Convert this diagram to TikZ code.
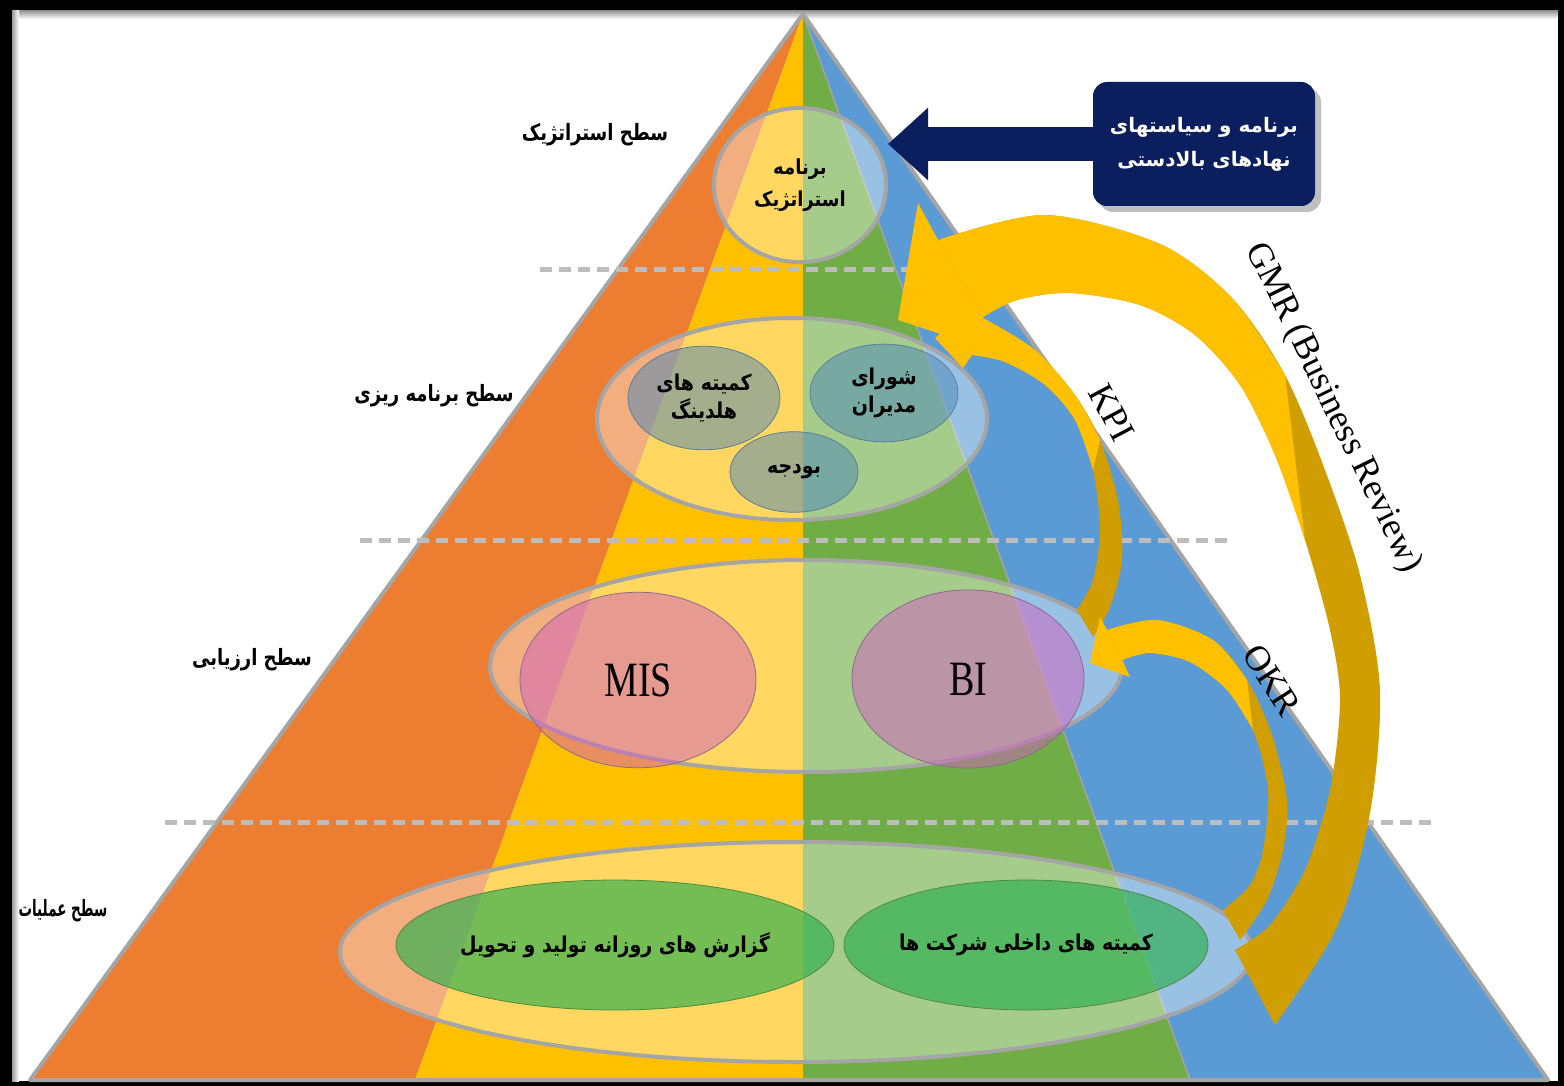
\documentclass[tikz,border=0pt]{standalone}
\usepackage{fontspec}
\setmainfont{Liberation Serif}
\newfontfamily\fa[Script=Arabic]{DejaVu Sans}
\TeXXeTstate=1
\usetikzlibrary{shapes.geometric,arrows.meta}
\newcommand{\prs}[1]{{\fa\bfseries\beginR #1\endR}}
\definecolor{porange}{HTML}{ED7D31}
\definecolor{pyellow}{HTML}{FFC000}
\definecolor{pgreen}{HTML}{70AD47}
\definecolor{pblue}{HTML}{5B9BD5}
\definecolor{pgray}{HTML}{A5A5A5}
\definecolor{dashgray}{HTML}{BDBDBD}
\definecolor{navy}{HTML}{0B1F5E}
\definecolor{arrbright}{HTML}{FFC000}
\definecolor{arrdark}{HTML}{D09E00}
\definecolor{bluefill}{HTML}{4A86B8}
\definecolor{blueline}{HTML}{5A7F96}
\definecolor{pinkfill}{HTML}{D060C0}
\definecolor{pinkline}{HTML}{8A6A8E}
\definecolor{greenfill}{HTML}{2AB04E}
\definecolor{greenline}{HTML}{4E8A3A}
\begin{document}
\begin{tikzpicture}[x=1pt,y=-1pt]
\tikzstyle{lvl}=[ellipse,draw=pgray,line width=4pt,fill=white,fill opacity=.38,text opacity=1,inner sep=0pt]
\tikzstyle{blueov}=[ellipse,draw=blueline,line width=.8pt,fill=bluefill,fill opacity=.5,text opacity=1,inner sep=0pt,align=center,font=\fontsize{19}{24}\selectfont]
\tikzstyle{pinkov}=[ellipse,draw=pinkline,line width=.8pt,fill=pinkfill,fill opacity=.5,text opacity=1,inner sep=0pt,font=\fontsize{38}{38}\selectfont]
\tikzstyle{greenov}=[ellipse,draw=greenline,line width=.8pt,fill=greenfill,fill opacity=.65,text opacity=1,inner sep=0pt,font=\fontsize{19}{24}\selectfont]
\tikzstyle{lvltext}=[font=\fontsize{18}{22}\selectfont,yscale=1.25]
\tikzstyle{rotlbl}=[font=\fontsize{36}{36}\selectfont]
\tikzstyle{sep}=[draw=dashgray,line width=5pt,dash pattern=on 12pt off 7pt]
\useasboundingbox (0,0) rectangle (1564,1086);
% frame
\fill[black] (0,0) rectangle (1564,1086);
\fill[white] (12,11) rectangle (1558,1081);
\shade[top color=black!40,bottom color=white] (12,11) rectangle (1558,19);
\shade[left color=black!40,right color=white] (12,11) rectangle (19,1081);
% pyramid
\coordinate (top) at (803,14);
\fill[porange] (top) -- (30,1080) -- (415,1080) -- cycle;
\fill[pyellow] (top) -- (415,1080) -- (803,1080) -- cycle;
\fill[pgreen] (top) -- (803,1080) -- (1190,1080) -- cycle;
\fill[pblue] (top) -- (1190,1080) -- (1548,1080) -- cycle;
\draw[pgray,line width=1.5pt] (top) -- (1190,1080);
\draw[pgray,line width=4pt,line join=round] (top) -- (30,1080) -- (1548,1080) -- cycle;
% level separators
\draw[sep] (540,270) -- (1030,270);
\draw[sep] (360,540) -- (1232,540);
\draw[sep] (165,822) -- (1432,822);
% level ellipses
\node[lvl,minimum width=172pt,minimum height=134pt,align=center,font=\fontsize{18}{28}\selectfont,yscale=1.15] (st) at (800,185) {\prs{برنامه}\\\prs{استراتژیک}};
\node[lvl,minimum width=390pt,minimum height=202pt] (pl) at (792,419) {};
\node[lvl,minimum width=632pt,minimum height=212pt] (ev) at (806,666) {};
\node[lvl,minimum width=912pt,minimum height=220pt] (op) at (796,952) {};
% inner ellipses
\node[blueov,minimum width=152pt,minimum height=90pt,yscale=1.15] (hc) at (704,398) {\prs{کمیته های}\\\prs{هلدینگ}};
\node[blueov,minimum width=148pt,minimum height=85pt,yscale=1.15] (bm) at (884,393) {\prs{شورای}\\\prs{مدیران}};
\node[blueov,minimum width=128pt,minimum height=70pt,yscale=1.15] (bu) at (794,472) {\prs{بودجه}};
\node[pinkov,minimum width=236pt,minimum height=135pt,yscale=1.3] (mis) at (638,680) {MIS};
\node[pinkov,minimum width=232pt,minimum height=137pt,yscale=1.3] (bi) at (968,679) {BI};
\node[greenov,minimum width=430pt,minimum height=113pt,yscale=1.15] (rep) at (615,945) {\prs{گزارش های روزانه تولید و تحویل}};
\node[greenov,minimum width=364pt,minimum height=113pt,yscale=1.15] (com) at (1026,945) {\prs{کمیته های داخلی شرکت ها}};
% level names
\node[lvltext] (l0) at (595,135) {\prs{سطح استراتژیک}};
\node[lvltext] (l1) at (434,396) {\prs{سطح برنامه ریزی}};
\node[lvltext] (l2) at (252,660) {\prs{سطح ارزیابی}};
\node[lvltext,xscale=.75] (l3) at (63,911) {\prs{سطح عملیات}};
% KPI arrow
\fill[arrdark] plot[smooth] coordinates {(983,318) (1035,350) (1075,395) (1100,440) (1118,500) (1122,560) (1110,607) (1093,637)}
  -- plot[smooth] coordinates {(1077,610) (1093,580) (1100,530) (1093,470) (1075,420) (1045,385) (1005,362) (972,355)} -- cycle;
\fill[arrbright] plot[smooth] coordinates {(983,318) (1035,350) (1075,395) (1100,440)}
  -- plot[smooth] coordinates {(1093,470) (1075,420) (1045,385) (1005,362) (972,355)} -- cycle;
\fill[arrbright] (983,318) -- (985,295) -- (935,338) -- (963,368) -- (972,355) -- cycle;
% OKR arrow
\fill[arrdark] plot[smooth] coordinates {(1107,630) (1157,620) (1213,640) (1247,680) (1272,735) (1287,800) (1283,850) (1267,900) (1240,940)}
  -- plot[smooth] coordinates {(1223,910) (1250,885) (1263,850) (1268,790) (1253,730) (1227,690) (1190,662) (1150,653) (1122,660)} -- cycle;
\fill[arrbright] plot[smooth] coordinates {(1107,630) (1157,620) (1213,640) (1247,680)}
  -- plot[smooth] coordinates {(1253,730) (1227,690) (1190,662) (1150,653) (1122,660)} -- cycle;
\fill[arrbright] (1107,630) -- (1100,617) -- (1090,663) -- (1130,677) -- (1122,660) -- cycle;
% GMR arrow
\fill[arrdark] plot[smooth] coordinates {(938,240) (1045,215) (1160,244) (1232,298) (1285,375) (1325,470) (1360,575) (1380,690) (1370,813) (1337,927) (1275,1025)}
  -- plot[smooth] coordinates {(1235,950) (1270,925) (1305,870) (1330,790) (1340,700) (1330,630) (1305,540) (1275,455) (1240,385) (1195,335) (1140,305) (1070,293) (1017,300) (983,317)} -- cycle;
\fill[arrbright] plot[smooth] coordinates {(938,240) (1045,215) (1160,244) (1232,298) (1285,375)}
  -- plot[smooth] coordinates {(1305,540) (1275,455) (1240,385) (1195,335) (1140,305) (1070,293) (1017,300) (983,317)} -- cycle;
\fill[arrbright] (938,240) -- (918,203) -- (898,320) -- (998,353) -- (983,317) -- cycle;
% arrow labels
\node[rotlbl,rotate=-62] (kpi) at (1112,413) {KPI};
\node[rotlbl,rotate=-57] (okr) at (1272,680) {OKR};
\node[rotlbl,rotate=-64] (gmr) at (1333,408) {GMR (Business Review)};
% upstream box
\fill[black,opacity=.25,rounded corners=14pt] (1099,88) rectangle (1321,212);
\node[fill=navy,rounded corners=14pt,minimum width=222pt,minimum height=124pt,text=white,align=center,font=\fontsize{20}{34}\selectfont] (src) at (1204,144) {\prs{برنامه و سیاستهای}\\\prs{نهادهای بالادستی}};
\draw[navy,line width=34pt,-{Triangle[length=40pt,width=70pt]}] (src.west) -- (st.east |- src.west);
\end{tikzpicture}
\end{document}
